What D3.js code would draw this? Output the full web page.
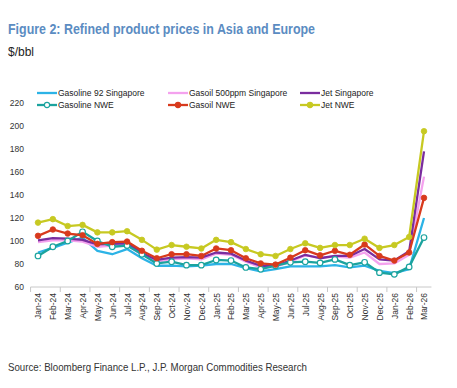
<!DOCTYPE html>
<html><head><meta charset="utf-8">
<script src="https://cdn.jsdelivr.net/npm/d3@7"></script>
<style>html,body{margin:0;padding:0;background:#fff;}svg{display:block;font-family:"Liberation Sans",Arial,sans-serif;}</style>
</head><body>
<script>
const months = ["Jan-24","Feb-24","Mar-24","Apr-24","May-24","Jun-24","Jul-24","Aug-24","Sep-24","Oct-24","Nov-24","Dec-24",
"Jan-25","Feb-25","Mar-25","Apr-25","May-25","Jun-25","Jul-25","Aug-25","Sep-25","Oct-25","Nov-25","Dec-25","Jan-26","Feb-26","Mar-26"];
const gasoline92Sg = [90,94,98.5,103,91.5,88.5,93,85,78.5,78.5,78,78.5,80,80,76.5,73.5,75.5,78,78,78,79,77,78.5,74,72,75.5,120];
const gasoil500Sg = [99,100.5,100.5,99.5,95,96,96.5,88,82,84,85,84,89,88,82,77,77.5,82,87.5,85.5,86.5,85.5,90,80,80.5,88,156];
const jetSg = [100.5,102.5,102,101,97,97.5,98,89.5,83.5,85.5,86,85.5,90,89,83,78.5,78.5,83,88,85,87,87,93,84,83,91,178];
const gasolineNwe = [87,95,100,108,100,95,96,88.5,80.5,82,79,79,83.5,83,77,75.5,78.5,81.5,82,81,84,79,81.5,72.5,71,77.5,103];
const gasoilNwe = [104.5,110,106.5,105,97.5,99,99.5,91.5,85,88.5,88.5,87,93.5,92,85,80.5,79.5,85.5,92,87.5,91.5,88,97,87,83,90,137.5];
const jetNwe = [116,119,113,114,107.5,107.5,108.5,101,92.5,96.5,95,93.5,101,99,93,88.5,87,93,98,94,96.5,96.5,102,94,96.5,103.5,195.5];
const yTicks = [60,80,100,120,140,160,180,200,220];
const seriesNames = ["Gasoline 92 Singapore","Gasoil 500ppm Singapore","Jet Singapore","Gasoline NWE","Gasoil NWE","Jet NWE"];

const series = [
  {name:seriesNames[0], values:gasoline92Sg, color:"#2cb3e6", marker:null},
  {name:seriesNames[1], values:gasoil500Sg, color:"#f4a2ee", marker:null},
  {name:seriesNames[2], values:jetSg, color:"#7a2d9e", marker:null},
  {name:seriesNames[3], values:gasolineNwe, color:"#1ba39e", marker:"open"},
  {name:seriesNames[4], values:gasoilNwe, color:"#d83a1d", marker:"filled"},
  {name:seriesNames[5], values:jetNwe, color:"#c7c922", marker:"filled"}
];

const W=457,H=388;
const svg=d3.select("body").append("svg").attr("width",W).attr("height",H);

svg.append("text").attr("x",8).attr("y",34).attr("font-size","14.5px").attr("font-weight","bold")
  .attr("fill","#5b8cc2").attr("textLength",307).attr("lengthAdjust","spacingAndGlyphs")
  .text("Figure 2: Refined product prices in Asia and Europe");
svg.append("text").attr("x",8).attr("y",56).attr("font-size","12px").attr("fill","#222").text("$/bbl");
svg.append("text").attr("x",8).attr("y",371).attr("font-size","11.5px").attr("fill","#333")
  .attr("textLength",299).attr("lengthAdjust","spacingAndGlyphs")
  .text("Source: Bloomberg Finance L.P., J.P. Morgan Commodities Research");

const x=d3.scalePoint().domain(months).range([38,424]);
const y=d3.scaleLinear().domain([60,220]).range([287,103]);
const step=x.step();

// y axis (labels only)
const yAxis=d3.axisLeft(y).tickValues(yTicks).tickSize(0).tickPadding(0);
const yg=svg.append("g").attr("transform","translate(24,0)").call(yAxis);
yg.select(".domain").remove();
yg.selectAll("text").attr("font-size","8.5px").attr("fill","#333").attr("font-family","Liberation Sans, Arial, sans-serif");

// x axis
const xg=svg.append("g").attr("transform","translate(0,287)").call(d3.axisBottom(x).tickSize(0).tickPadding(0));
xg.select(".domain").remove();
xg.selectAll("text").attr("font-size","8.5px").attr("fill","#333").attr("font-family","Liberation Sans, Arial, sans-serif")
  .attr("transform","rotate(-90)").attr("text-anchor","end").attr("x",-6).attr("y",0).attr("dy","0.35em");
const x0=x(months[0])-step/2, x1=x(months[months.length-1])+step/2;
svg.append("line").attr("x1",x0).attr("x2",x1).attr("y1",287).attr("y2",287).attr("stroke","#c8c8c8").attr("stroke-width",1);
const bounds=d3.range(0,months.length+1,2);
svg.selectAll("line.tk").data(bounds).enter().append("line").attr("class","tk")
  .attr("x1",i=>x0+i*step).attr("x2",i=>x0+i*step).attr("y1",287).attr("y2",292)
  .attr("stroke","#c8c8c8").attr("stroke-width",1);

// lines
const line=d3.line().x((d,i)=>x(months[i])).y(d=>y(d));
series.forEach(s=>{
  svg.append("path").datum(s.values).attr("d",line).attr("fill","none")
    .attr("stroke",s.color).attr("stroke-width",2.3).attr("stroke-linejoin","round");
  if(s.marker){
    svg.selectAll(null).data(s.values).enter().append("circle")
      .attr("cx",(d,i)=>x(months[i])).attr("cy",d=>y(d)).attr("r",2.8)
      .attr("fill",s.marker==="open"?"#fff":s.color).attr("stroke",s.color).attr("stroke-width",s.marker==="open"?1.2:0.8);
  }
});

// legend
const legX=[37,168,300], legY=[93,105];
const legOrder=[0,1,2,3,4,5];
legOrder.forEach((si,k)=>{
  const s=series[si];
  const col=k%3,row=Math.floor(k/3);
  const lx=legX[col],ly=legY[row];
  const g=svg.append("g");
  g.append("line").attr("x1",lx).attr("x2",lx+20).attr("y1",ly).attr("y2",ly).attr("stroke",s.color).attr("stroke-width",2.3);
  if(s.marker){
    g.append("circle").attr("cx",lx+10).attr("cy",ly).attr("r",2.6)
      .attr("fill",s.marker==="open"?"#fff":s.color).attr("stroke",s.color).attr("stroke-width",1.1);
  }
  g.append("text").attr("x",lx+21).attr("y",ly).attr("dy","0.35em").attr("font-size","8.5px").attr("fill","#222").text(s.name);
});
</script>
</body></html>
